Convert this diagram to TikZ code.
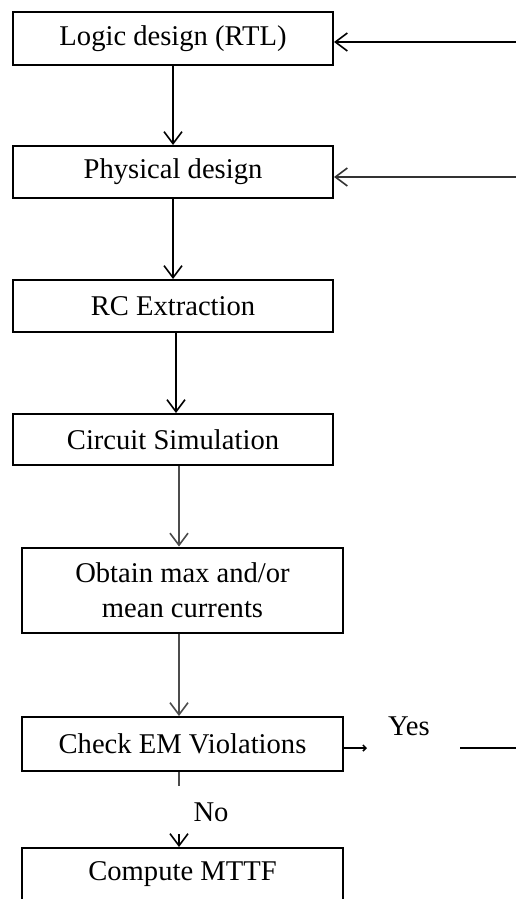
\documentclass[tikz,border=0pt]{standalone}
\usepackage{fontspec}
\setmainfont{Liberation Serif}
\usetikzlibrary{arrows.meta}
\begin{document}
\begin{tikzpicture}[x=1pt,y=-1pt,
  box/.style={draw=black,line width=2pt,minimum width=320pt,inner sep=0pt,align=center,font=\fontsize{28.6}{35}\selectfont},
  arr/.style={line width=1.7pt,-{Straight Barb[length=12pt,width=18pt,line width=1.6pt]}},
  lbl/.style={font=\fontsize{28.6}{35}\selectfont,inner sep=0pt}]
\useasboundingbox (0,0) rectangle (516,899);
\node[box,minimum height=53pt] (b1) at (173,38.5) {Logic design (RTL)};
\node[box,minimum height=52pt] (b2) at (173,172) {Physical design};
\node[box,minimum height=52pt] (b3) at (173,306) {RC Extraction};
\node[box,minimum height=51pt] (b4) at (173,439.5) {Circuit Simulation};
\node[box,minimum width=321pt,minimum height=85pt] (b5) at (182.5,590) {Obtain max and/or\\mean currents};
\node[box,minimum width=321pt,minimum height=54pt] (b6) at (182.5,744) {Check EM Violations};
\node[box,minimum width=321pt,minimum height=52pt] (b7) at (182.5,874) {Compute MTTF};
\coordinate (r1) at (516,42);
\coordinate (r2) at (516,177);
\coordinate (ny) at (367,748);
\coordinate (yr0) at (460,748);
\coordinate (yr1) at (516,748);
\coordinate (n1) at (179,786);
\coordinate (n2) at (179,834);
\node[lbl] (yes) at (409,726) {Yes};
\node[lbl] (no) at (211,812) {No};
\draw[arr] (b1.south) -- (b2.north);
\draw[arr] (b2.south) -- (b3.north);
\draw[arr] ([xshift=3pt]b3.south) -- ([xshift=3pt]b3.south |- b4.north);
\draw[arr,black!70] ([xshift=6pt]b4.south) -- ([xshift=6pt]b4.south |- b5.north);
\draw[arr,black!70] ([xshift=-3.5pt]b5.south) -- ([xshift=-3.5pt]b6.north);
\draw[arr] (r1) -- (r1 -| b1.east);
\draw[arr,black!80] (r2) -- (r2 -| b2.east);
\draw[line width=1.5pt,-{Straight Barb[length=3pt,width=6pt]}] (ny -| b6.east) -- (ny);
\draw[line width=1.7pt] (yr0) -- (yr1);
\draw[line width=1.7pt,black!70] (b6.south -| n1) -- (n1);
\draw[arr] (n2) -- (n2 |- b7.north);
\end{tikzpicture}
\end{document}
